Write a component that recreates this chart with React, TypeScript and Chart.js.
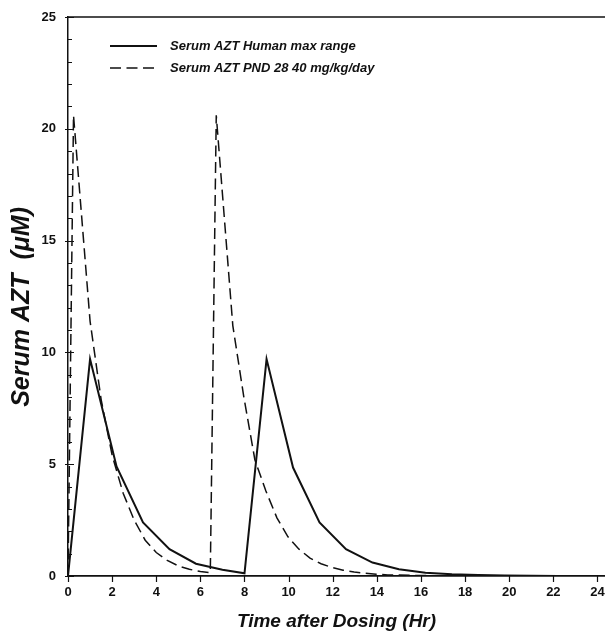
import React, { useEffect, useRef } from "react";
import { Chart, registerables } from "chart.js";

Chart.register(...registerables);

// ---- data ----
const humanTime = [0, 1, 2.2, 3.4, 4.6, 5.8, 7, 8, 9, 10.2, 11.4, 12.6, 13.8, 15, 16.2, 17.4, 18.6, 19.8, 21, 22.2, 23.5];
const humanAZT = [0, 9.7, 4.9, 2.4, 1.2, 0.55, 0.28, 0.12, 9.7, 4.85, 2.4, 1.2, 0.6, 0.3, 0.15, 0.08, 0.04, 0.02, 0.01, 0.005, 0];

const pndTime = [0, 0.25, 1.0, 1.5, 2.0, 2.5, 3.0, 3.5, 4.0, 4.5, 5.0, 5.5, 6.0, 6.45, 6.72, 7.47, 7.97, 8.47, 8.97, 9.47, 9.97, 10.47, 10.97, 11.47, 11.97, 12.47, 12.97, 13.47, 13.97, 14.5, 15.5, 16.5, 17.5, 18.5];
const pndAZT = [0, 20.6, 11.4, 7.9, 5.4, 3.7, 2.5, 1.6, 1.05, 0.7, 0.45, 0.3, 0.2, 0.15, 20.6, 11.2, 8.0, 5.2, 3.8, 2.6, 1.75, 1.2, 0.8, 0.55, 0.38, 0.26, 0.18, 0.12, 0.08, 0.05, 0.03, 0.015, 0.01, 0];

const seriesLabels = ["Serum AZT Human max range", "Serum AZT PND 28 40 mg/kg/day"];
const xTicks = [0, 2, 4, 6, 8, 10, 12, 14, 16, 18, 20, 22, 24];
const yTicks = [0, 5, 10, 15, 20, 25];
const yMinorTicks = Array.from({ length: 26 }, (_, i) => i);
const xTitle = "Time after Dosing (Hr)";
const yTitle = "Serum AZT  (\u03BCM)   ";

const FONT = "'Liberation Sans', Arial, sans-serif";
const INK = "#111";

const decorPlugin = {
  id: "decor",
  afterDraw(chart: any) {
    const { ctx, chartArea, scales } = chart;
    const { left, right, top, bottom } = chartArea;
    const x = scales.x;
    const y = scales.y;
    ctx.save();
    ctx.strokeStyle = INK;
    // top border
    ctx.lineWidth = 1.5;
    ctx.beginPath();
    ctx.moveTo(left, top);
    ctx.lineTo(right, top);
    ctx.stroke();
    // y ticks (inside)
    ctx.lineWidth = 1;
    ctx.beginPath();
    for (const v of yMinorTicks) {
      const py = Math.round(y.getPixelForValue(v)) + 0.5;
      const major = v % 5 === 0;
      ctx.moveTo(left - (major ? 3 : 0), py);
      ctx.lineTo(left + (major ? 6 : 4), py);
    }
    ctx.stroke();
    // x ticks (outside)
    ctx.lineWidth = 1.2;
    ctx.beginPath();
    for (const v of xTicks) {
      const px = Math.round(x.getPixelForValue(v)) + 0.5;
      ctx.moveTo(px, bottom);
      ctx.lineTo(px, bottom + 6);
    }
    ctx.stroke();
    // legend
    const ds = chart.data.datasets;
    ds.forEach((d: any, i: number) => {
      const ly = 46 + i * 22;
      ctx.beginPath();
      ctx.setLineDash(d.borderDash || []);
      ctx.lineWidth = d.borderWidth;
      ctx.strokeStyle = d.borderColor;
      ctx.moveTo(110, ly);
      ctx.lineTo(157, ly);
      ctx.stroke();
      ctx.setLineDash([]);
      ctx.fillStyle = INK;
      ctx.font = `italic bold 13px ${FONT}`;
      ctx.textBaseline = "middle";
      ctx.textAlign = "left";
      ctx.fillText(d.label, 170, ly);
    });
    ctx.restore();
  },
};

export default function App() {
  const ref = useRef<HTMLCanvasElement | null>(null);
  useEffect(() => {
    if (!ref.current) return;
    const chart = new Chart(ref.current, {
      type: "line",
      data: {
        datasets: [
          {
            label: seriesLabels[0],
            data: humanTime.map((t, i) => ({ x: t, y: humanAZT[i] })),
            borderColor: INK,
            borderWidth: 2,
            pointRadius: 0,
            tension: 0,
            fill: false,
          },
          {
            label: seriesLabels[1],
            data: pndTime.map((t, i) => ({ x: t, y: pndAZT[i] })),
            borderColor: INK,
            borderWidth: 1.5,
            borderDash: [11, 5.5],
            pointRadius: 0,
            tension: 0,
            fill: false,
          },
        ],
      },
      options: {
        animation: false,
        responsive: false,
        devicePixelRatio: 1,
        layout: { padding: { top: 17, right: 0, left: 0, bottom: 0 }, autoPadding: false } as any,
        plugins: { legend: { display: false }, tooltip: { enabled: false } },
        scales: {
          x: {
            type: "linear",
            min: 0,
            max: 24.34,
            afterBuildTicks: (s: any) => {
              s.ticks = xTicks.map((v) => ({ value: v }));
            },
            afterFit: (s: any) => {
              s.height = 60;
              s.paddingLeft = 0;
              s.paddingRight = 0;
            },
            grid: { display: false, drawTicks: false },
            border: { display: true, color: INK, width: 1.8 },
            ticks: {
              color: INK,
              font: { family: FONT, size: 13, weight: "bold" },
              padding: 9,
              maxRotation: 0,
              autoSkip: false,
            },
            title: {
              display: true,
              text: xTitle,
              color: INK,
              font: { family: FONT, size: 19, weight: "bold", style: "italic" },
              padding: { top: 0, bottom: 3 },
            },
          },
          y: {
            type: "linear",
            min: 0,
            max: 25,
            afterBuildTicks: (s: any) => {
              s.ticks = yTicks.map((v) => ({ value: v }));
            },
            afterFit: (s: any) => {
              s.width = 68;
              s.paddingTop = 0;
              s.paddingBottom = 0;
            },
            grid: { display: false, drawTicks: false },
            border: { display: true, color: INK, width: 1.5 },
            ticks: {
              color: INK,
              font: { family: FONT, size: 13, weight: "bold" },
              padding: 12,
            },
            title: {
              display: true,
              text: yTitle,
              color: INK,
              font: { family: FONT, size: 25, weight: "bold", style: "italic" },
              padding: { top: 7, bottom: 0 },
            },
          },
        },
      },
      plugins: [decorPlugin],
    } as any);
    return () => chart.destroy();
  }, []);
  return (
    <div style={{ position: "fixed", left: 0, top: 0, width: 605, height: 636, background: "#fff" }}>
      <canvas ref={ref} width={605} height={636} style={{ display: "block" }} />
    </div>
  );
}
